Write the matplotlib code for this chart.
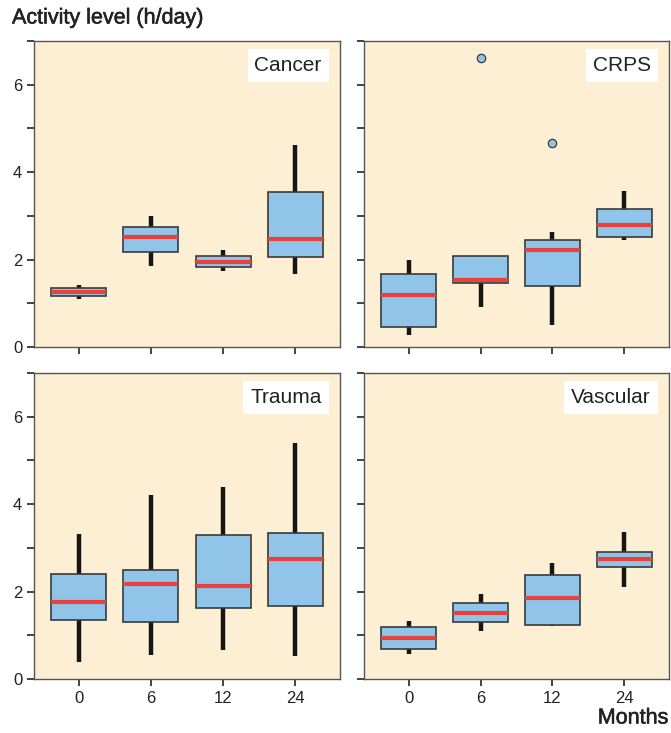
import matplotlib.pyplot as plt
import matplotlib.patheffects as pe

plt.rcParams['font.family'] = ['Liberation Sans', 'DejaVu Sans']

months = ['0', '6', '12', '24']
groups = ['Cancer', 'CRPS', 'Trauma', 'Vascular']

# per group, per timepoint: whisker low, q1, median, q3, whisker high
cancer_lo = [1.09, 1.86, 1.74, 1.67]
cancer_q1 = [1.17, 2.17, 1.84, 2.07]
cancer_med = [1.26, 2.51, 1.95, 2.48]
cancer_q3 = [1.36, 2.75, 2.09, 3.54]
cancer_hi = [1.41, 3.00, 2.22, 4.61]

crps_lo = [0.28, 0.92, 0.50, 2.45]
crps_q1 = [0.46, 1.47, 1.39, 2.51]
crps_med = [1.20, 1.53, 2.23, 2.79]
crps_q3 = [1.67, 2.08, 2.44, 3.15]
crps_hi = [2.00, 2.08, 2.62, 3.57]
crps_out = [[], [6.60], [4.66], []]

trauma_lo = [0.38, 0.56, 0.66, 0.52]
trauma_q1 = [1.34, 1.31, 1.62, 1.66]
trauma_med = [1.76, 2.18, 2.13, 2.75]
trauma_q3 = [2.40, 2.49, 3.29, 3.35]
trauma_hi = [3.32, 4.21, 4.39, 5.40]

vasc_lo = [0.58, 1.10, 1.21, 2.11]
vasc_q1 = [0.69, 1.30, 1.24, 2.57]
vasc_med = [0.93, 1.52, 1.86, 2.75]
vasc_q3 = [1.18, 1.73, 2.37, 2.91]
vasc_hi = [1.32, 1.95, 2.66, 3.37]

data = {
    'Cancer': (cancer_lo, cancer_q1, cancer_med, cancer_q3, cancer_hi, [[]] * 4),
    'CRPS': (crps_lo, crps_q1, crps_med, crps_q3, crps_hi, crps_out),
    'Trauma': (trauma_lo, trauma_q1, trauma_med, trauma_q3, trauma_hi, [[]] * 4),
    'Vascular': (vasc_lo, vasc_q1, vasc_med, vasc_q3, vasc_hi, [[]] * 4),
}

bg = '#fdefd3'
box_c = '#90c4e9'
med_c = '#e8413c'
edge_c = '#3a3a3a'
txt_c = '#222222'
medium = [pe.withStroke(linewidth=0.4, foreground=txt_c)]

fig = plt.figure(figsize=(6.71, 7.33), dpi=100)
W, H = 671, 733
boxes = {
    'Cancer': (34, 41, 306, 306),
    'CRPS': (364, 41, 305, 306),
    'Trauma': (34, 373, 306, 306),
    'Vascular': (364, 373, 305, 306),
}

for g in groups:
    x0, y0, w, h = boxes[g]
    ax = fig.add_axes([x0 / W, 1 - (y0 + h) / H, w / W, h / H])
    ax.set_facecolor(bg)
    lo, q1, med, q3, hi, out = data[g]
    stats = []
    for i in range(4):
        stats.append({'whislo': lo[i], 'q1': q1[i], 'med': med[i], 'q3': q3[i],
                      'whishi': hi[i], 'fliers': out[i], 'label': months[i]})
    ax.bxp(stats, positions=[1, 2, 3, 4], widths=0.76, patch_artist=True,
           showcaps=False,
           boxprops=dict(facecolor=box_c, edgecolor=edge_c, linewidth=1.2, zorder=3),
           medianprops=dict(color=med_c, linewidth=3, solid_capstyle='butt', zorder=4),
           whiskerprops=dict(color='#161616', linewidth=3.2, solid_capstyle='butt', zorder=2),
           flierprops=dict(marker='o', markerfacecolor=box_c, markeredgecolor=edge_c,
                           markersize=6, markeredgewidth=0.9))
    ax.set_xlim(0.38, 4.62)
    ax.set_ylim(0, 7)
    ax.set_yticks(range(8))
    for s in ax.spines.values():
        s.set_color('#555555')
        s.set_linewidth(1.0)
    ax.tick_params(axis='both', direction='out', length=5, width=1.2,
                   color=txt_c, labelsize=12, labelcolor=txt_c)
    if g in ('Cancer', 'Trauma'):
        ax.set_yticklabels(['0', '', '2', '', '4', '', '6', ''])
    else:
        ax.set_yticklabels([])
    if g in ('Cancer', 'CRPS'):
        ax.set_xticklabels([])
    ax.text(0.94, 0.95, g, transform=ax.transAxes, ha='right', va='top',
            fontsize=15, color=txt_c,
            bbox=dict(facecolor='white', edgecolor='none', pad=5))

fig.text(12 / W, 1 - 18 / H, 'Activity level (h/day)', fontsize=15.5,
         color=txt_c, ha='left', va='center', path_effects=medium)
fig.text(668 / W, 1 - 718 / H, 'Months', fontsize=15.5,
         color=txt_c, ha='right', va='center', path_effects=medium)

fig.savefig('out.png', dpi=100)
